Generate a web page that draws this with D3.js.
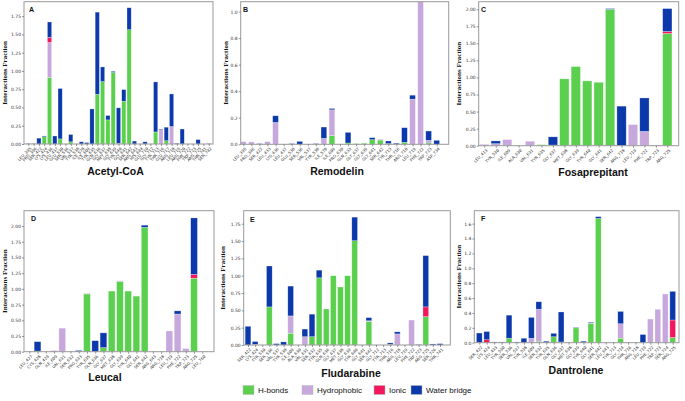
<!DOCTYPE html>
<html><head><meta charset="utf-8">
<script src="https://cdn.jsdelivr.net/npm/d3@7"></script>
<style>body{margin:0;background:#fff}svg{display:block}</style>
</head><body><svg id="c" width="685" height="401"></svg>
<script>
// ---------- DATA ----------
const seriesNames = ["H-bonds","Hydrophobic","Ionic","Water bridge"];
const seriesColors = ["#5bd04f","#c7a8dd","#f2175c","#0b38aa"];

const aLabels = ["LEU_395","PRO_396","SER_422","LYS_424","LYS_436","LEU_437","GLU_530","SER_536","VAL_537","TYR_538","ILE_578","ILE_609","TYR_635","GLN_636","GLY_637","MET_638","GLY_639","TYR_640","GLY_641","SER_642","ARG_643","HIS_644","GLU_710","GLY_712","TYR_713","THR_716","GLU_717","ARG_718","LEU_719","ARG_720","PHE_722","TRP_723","ARG_725","THR_741","SER_742"];
const aHbond = [0,0,0,0.10,0.91,0,0.07,0,0.03,0,0,0,0,0.68,0.855,0.33,0.98,0.01,0.585,1.565,0,0,0,0,0.165,0,0.045,0,0,0,0,0,0,0,0];
const aHydro = [0.015,0,0,0,0.48,0,0,0,0,0,0,0,0,0,0,0,0,0,0,0,0,0,0,0,0,0.195,0,0.24,0,0,0,0,0,0,0];
const aIonic = [0,0,0,0,0.07,0,0,0,0,0,0,0,0,0,0,0,0,0,0,0,0,0,0,0,0,0,0,0,0,0,0,0,0,0,0];
const aWater = [0,0.005,0.08,0.01,0.21,0.11,0.69,0,0.10,0,0.03,0.02,0.48,1.125,0.20,0.06,0.015,0.485,0.16,0.30,0.04,0,0.03,0,0.685,0.01,0.185,0.445,0.01,0.205,0,0,0.06,0,0.005];

const bLabels = ["LEU_395","PRO_396","SER_422","LEU_433","LYS_436","LEU_437","GLU_530","SER_536","VAL_537","TYR_538","ILE_578","ILE_609","PRO_630","GLN_633","GLY_637","GLY_639","GLY_641","SER_642","TYR_713","THR_716","ARG_718","LEU_719","PHE_722","TRP_723","ASP_734"];
const bHbond = [0,0,0,0,0,0,0,0,0,0,0,0.065,0,0.01,0.005,0.008,0.035,0.032,0.005,0,0.015,0,0,0.01,0];
const bHydro = [0.02,0.018,0,0.02,0.165,0,0,0,0,0,0.045,0.195,0,0,0,0,0,0.006,0,0,0,0.34,1.1,0.02,0];
const bIonic = [0,0,0,0,0,0,0,0,0,0,0,0,0,0,0,0,0,0,0,0,0,0,0,0,0];
const bWater = [0,0,0.005,0,0.05,0,0.005,0.022,0,0.005,0.085,0.01,0,0.08,0,0,0.015,0,0.02,0.008,0.11,0.03,0,0.07,0.03];

const cLabels = ["LEU_413","TYR_530","ILE_609","ALA_630","VAL_631","TYR_635","GLY_637","MET_638","GLY_639","TYR_640","GLY_641","SER_642","ARG_718","LEU_719","PHE_722","TRP_723","ARG_725"];
const cHbond = [0,0,0,0,0,0.015,0.01,0.98,1.16,0.95,0.93,2.0,0,0,0,0,1.645];
const cHydro = [0.02,0.03,0.09,0,0.065,0,0,0,0,0,0,0,0,0.31,0.21,0.01,0];
const cIonic = [0,0,0,0,0,0,0,0,0,0,0,0,0,0,0,0,0.03];
const cWater = [0,0.04,0,0,0,0,0.12,0,0,0,0,0.01,0.58,0,0.49,0,0.335];

const dLabels = ["LEU_427","CYS_428","GLN_429","ILE_609","VAL_631","SER_632","PRO_633","TYR_635","GLN_636","GLY_637","MET_638","GLY_639","TYR_640","GLY_641","SER_642","ARG_643","ARG_718","LEU_719","PHE_722","TRP_723","ARG_725","LEU_760"];
const dHbond = [0,0.01,0,0,0,0,0,0.92,0,0.065,0.965,1.12,0.965,0.885,1.98,0,0,0,0,0,1.17,0];
const dHydro = [0,0,0,0.02,0.375,0,0,0.01,0,0,0,0.01,0,0,0,0,0,0.33,0.60,0.05,0,0];
const dIonic = [0,0,0,0,0,0,0,0,0,0,0,0,0,0,0,0,0,0,0,0,0.06,0];
const dWater = [0,0.15,0,0,0,0,0.02,0,0.175,0.235,0,0,0,0,0.035,0,0,0,0.05,0,0.90,0];

const eLabels = ["SER_422","LYS_424","TYR_530","SER_536","VAL_537","TYR_538","ILE_609","ALA_630","VAL_631","SER_632","TYR_635","GLN_636","GLY_637","MET_638","GLY_639","TYR_640","GLY_641","SER_642","GLY_712","TYR_713","THR_716","ARG_718","LEU_719","PHE_722","TRP_723","ARG_725","SER_726","THR_741"];
const eHbond = [0,0,0,0.55,0,0,0.17,0,0,0.12,0.97,0.52,1.0,0.837,1.0,1.505,0,0.34,0,0,0,0,0,0,0,0.41,0,0];
const eHydro = [0,0.01,0,0,0,0,0.25,0,0.12,0,0,0,0,0,0,0,0,0.01,0,0,0.01,0.16,0,0.36,0.015,0,0,0];
const eIonic = [0,0,0,0,0,0,0,0,0,0,0,0,0,0,0,0,0,0,0,0,0,0,0,0,0,0.14,0,0];
const eWater = [0.27,0.04,0,0.59,0.02,0.045,0.43,0,0.11,0.325,0.11,0,0,0,0,0.34,0,0.045,0,0,0.02,0.03,0,0,0,0.74,0.015,0.02];

const fLabels = ["SER_422","LYS_424","LEU_433","TYR_530","SER_536","VAL_537","TYR_538","ILE_609","SER_632","TYR_635","GLN_636","GLY_637","MET_638","GLY_639","TYR_640","GLY_641","SER_642","LEU_643","TYR_713","GLY_714","THR_716","ARG_718","LEU_719","PHE_722","TRP_723","SER_724","ARG_725"];
const fHbond = [0,0,0,0,0.06,0,0,0,0.02,0,0.08,0.01,0,0.2,0,0.26,1.67,0,0,0.06,0,0,0,0,0,0,0.07];
const fHydro = [0,0,0,0,0,0,0,0.06,0.43,0,0,0,0,0,0,0.01,0,0.005,0,0.195,0,0,0,0.318,0.449,0.654,0];
const fIonic = [0,0.04,0,0,0,0,0,0,0,0,0,0,0,0,0,0,0,0,0,0,0,0,0,0,0,0,0.235];
const fWater = [0.13,0.11,0.01,0.01,0.31,0.01,0.06,0.28,0.10,0.02,0.046,0.403,0,0.007,0.02,0.008,0.024,0,0,0.165,0.005,0.005,0.11,0,0,0,0.385];

const yTicksA = [0,0.25,0.5,0.75,1.0,1.25,1.5,1.75];
const yTicksB = [0,0.2,0.4,0.6,0.8,1.0];
const yTicksC = [0,0.25,0.5,0.75,1.0,1.25,1.5,1.75,2.0];
const yTicksD = [0,0.25,0.5,0.75,1.0,1.25,1.5,1.75,2.0];
const yTicksE = [0,0.25,0.5,0.75,1.0,1.25,1.5,1.75];
const yTicksF = [0,0.2,0.4,0.6,0.8,1.0,1.2,1.4,1.6];

// ---------- LAYOUT ----------
const panels = [
 {letter:"A", title:"Acetyl-CoA", labels:aLabels, series:[aHbond,aHydro,aIonic,aWater], ticks:yTicksA, fmt:".2f",
  frame:[24,1.7,213,144], x0:28.3, x1:208.7, bw:4.2, ymax:1.948, tx:115.5, ty:175, ylx:4.5, lx:29, ly:12},
 {letter:"B", title:"Remodelin", labels:bLabels, series:[bHbond,bHydro,bIonic,bWater], ticks:yTicksB, fmt:".1f",
  frame:[240.7,1.7,448.7,144.3], x0:243.3, x1:436.7, bw:5.7, ymax:1.0746, tx:337, ty:175, ylx:225.5, lx:243, ly:12},
 {letter:"C", title:"Fosaprepitant", labels:cLabels, series:[cHbond,cHydro,cIonic,cWater], ticks:yTicksC, fmt:".2f",
  frame:[478.7,1.7,678.7,145.7], x0:484.3, x1:667.3, bw:9.3, ymax:2.111, tx:593, ty:175.5, ylx:459, lx:481, ly:12.3},
 {letter:"D", title:"Leucal", labels:dLabels, series:[dHbond,dHydro,dIonic,dWater], ticks:yTicksD, fmt:".2f",
  frame:[24,210.7,214,351.7], x0:29.3, x1:202.3, bw:6.7, ymax:2.245, tx:105, ty:380.5, ylx:4.5, lx:31, ly:220.7},
 {letter:"E", title:"Fludarabine", labels:eLabels, series:[eHbond,eHydro,eIonic,eWater], ticks:yTicksE, fmt:".2f",
  frame:[243.7,210.7,450.3,345], x0:248, x1:440, bw:5.7, ymax:1.938, tx:351, ty:377, ylx:223, lx:250, ly:222},
 {letter:"F", title:"Dantrolene", labels:fLabels, series:[fHbond,fHydro,fIonic,fWater], ticks:yTicksF, fmt:".1f",
  frame:[474.3,210.7,679,342.7], x0:479.3, x1:672.7, bw:5.7, ymax:1.774, tx:576, ty:374, ylx:459, lx:481, ly:220.7}
];

const svg = d3.select("#c");
const defs = svg.append("defs");

panels.forEach((p, pi) => {
  const [L,T,R,B] = p.frame;
  const x = d3.scalePoint().domain(p.labels).range([p.x0, p.x1]);
  const y = d3.scaleLinear().domain([0, p.ymax]).range([B, T]);
  const g = svg.append("g");

  defs.append("clipPath").attr("id","clip"+pi)
    .append("rect").attr("x",L).attr("y",T).attr("width",R-L).attr("height",B-T);

  // stacked data
  const rows = p.labels.map((lab,i) => {
    const o = {label:lab};
    seriesNames.forEach((s,k)=> o[s] = p.series[k][i]);
    return o;
  });
  const stacked = d3.stack().keys(seriesNames)(rows);

  const bars = g.append("g").attr("clip-path","url(#clip"+pi+")");
  stacked.forEach((layer,k) => {
    bars.append("g").attr("fill", seriesColors[k])
      .selectAll("rect").data(layer.filter(d => d[1]-d[0] > 0)).join("rect")
      .attr("x", d => x(d.data.label) - p.bw/2)
      .attr("width", p.bw)
      .attr("y", d => y(d[1]))
      .attr("height", d => Math.max(0, y(d[0]) - y(d[1])))
      .attr("stroke","#ffffff").attr("stroke-opacity",0.45).attr("stroke-width",0.6);
  });

  // frame
  g.append("rect").attr("x",L).attr("y",T).attr("width",R-L).attr("height",B-T)
    .attr("fill","none").attr("stroke","#999").attr("stroke-width",1);

  // y axis
  const ya = d3.axisLeft(y).tickValues(p.ticks).tickFormat(d3.format(p.fmt)).tickSize(2).tickPadding(1);
  const yg = g.append("g").attr("transform",`translate(${L},0)`).call(ya);
  yg.select(".domain").remove();
  yg.selectAll("line").attr("stroke","#555").attr("stroke-width",0.6);
  yg.selectAll("text").attr("font-family","DejaVu Sans").attr("font-size",4.5).attr("fill","#333");

  // x axis
  const xa = d3.axisBottom(x).tickSize(2).tickPadding(1);
  const xg = g.append("g").attr("transform",`translate(0,${B})`).call(xa);
  xg.select(".domain").remove();
  xg.selectAll("line").attr("stroke","#555").attr("stroke-width",0.6);
  xg.selectAll("text").attr("font-family","DejaVu Sans").attr("font-size",4).attr("fill","#333")
    .attr("text-anchor","end").attr("dy","0.3em")
    .attr("transform","translate(0,2) rotate(-45)");

  // letter
  g.append("text").attr("x",p.lx).attr("y",p.ly).text(p.letter)
    .attr("font-family","Liberation Sans, Arial, sans-serif").attr("font-weight","bold").attr("font-size",7).attr("fill","#111");

  // title
  g.append("text").attr("x",p.tx).attr("y",p.ty).text(p.title).attr("text-anchor","middle")
    .attr("font-family","Liberation Sans, Arial, sans-serif").attr("font-weight","bold").attr("font-size",10.5).attr("fill","#111");

  // y label
  g.append("text").attr("transform",`translate(${p.ylx},${(T+B)/2}) rotate(-90)`)
    .attr("text-anchor","middle").attr("dominant-baseline","central")
    .text("Interactions Fraction")
    .attr("font-family","Liberation Serif, Times New Roman, serif").attr("font-weight","bold").attr("font-size",7).attr("fill","#111");
});

// legend
const legendX = [243, 302, 374, 411];
const lg = svg.append("g");
seriesNames.forEach((s,k) => {
  lg.append("rect").attr("x",legendX[k]).attr("y",385.5).attr("width",11).attr("height",9)
    .attr("fill",seriesColors[k]).attr("stroke","#bbb").attr("stroke-width",0.5);
  lg.append("text").attr("x",legendX[k]+15).attr("y",393).text(s)
    .attr("font-family","Liberation Sans, Arial, sans-serif").attr("font-size",8).attr("fill","#111");
});
</script></body></html>
